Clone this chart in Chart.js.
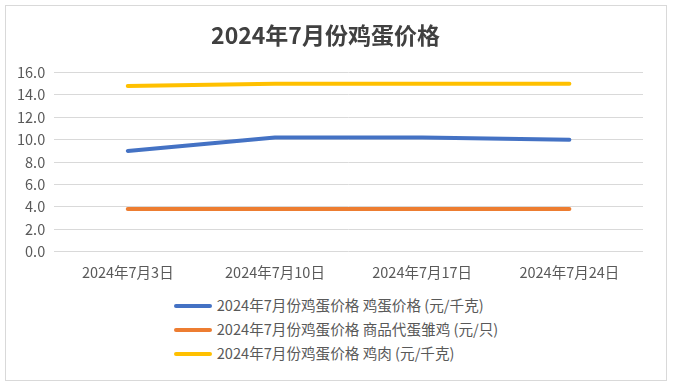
<!DOCTYPE html>
<html>
<head>
<meta charset="utf-8">
<script src="https://cdn.jsdelivr.net/npm/chart.js@4/dist/chart.umd.min.js"></script>
<style>
    body { margin: 0; background: #fff; font-family: "Noto Sans CJK SC", "Noto Sans", sans-serif; }
    #box { position: absolute; left: 5px; top: 5px; width: 660px; height: 374px; border: 1px solid #d9d9d9; }
    #chartWrap { position: relative; width: 660px; height: 287px; }
    #legend { text-align: center; }
    #legend ul { display: inline-block; list-style: none; margin: 0; padding: 0; text-align: left; }
    #legend li { height: 24px; line-height: 24px; font-size: 14.6px; color: #595959; white-space: nowrap; }
    #legend .swatch { display: inline-block; width: 38px; height: 4px; border-radius: 2px; vertical-align: middle; margin-right: 5px; position: relative; top: -1px; }
</style>
</head>
<body>
<div id="box">
    <div id="chartWrap"><canvas id="eggChart"></canvas></div>
    <div id="legend"></div>
</div>
<script>
// data
const categories = ['2024年7月3日', '2024年7月10日', '2024年7月17日', '2024年7月24日'];
const eggPrice = [9.0, 10.2, 10.2, 10.0];
const chickPrice = [3.8, 3.8, 3.8, 3.8];
const meatPrice = [14.8, 15.0, 15.0, 15.0];
const seriesNames = [
    '2024年7月份鸡蛋价格 鸡蛋价格 (元/千克)',
    '2024年7月份鸡蛋价格 商品代蛋雏鸡 (元/只)',
    '2024年7月份鸡蛋价格 鸡肉 (元/千克)'
];
const colors = ['#4472C4', '#ED7D31', '#FFC000'];

const fontFamily = '"Noto Sans CJK SC", "Noto Sans", sans-serif';

function makeSet(i, values) {
    return {
        label: seriesNames[i],
        data: values,
        borderColor: colors[i],
        backgroundColor: colors[i],
        borderWidth: 4,
        borderCapStyle: 'round',
        borderJoinStyle: 'round',
        pointRadius: 0,
        tension: 0
    };
}

const chart = new Chart(document.getElementById('eggChart'), {
    type: 'line',
    data: {
        labels: categories,
        datasets: [makeSet(0, eggPrice), makeSet(1, chickPrice), makeSet(2, meatPrice)]
    },
    options: {
        responsive: true,
        maintainAspectRatio: false,
        animation: false,
        layout: { padding: { top: 8, left: 2, right: 23, bottom: 8 } },
        plugins: {
            legend: { display: false },
            tooltip: { enabled: false },
            title: {
                display: true,
                text: '2024年7月份鸡蛋价格',
                color: '#404040',
                font: { family: fontFamily, size: 23, weight: 'bold' },
                padding: { top: 7, bottom: 24 }
            }
        },
        scales: {
            x: {
                offset: true,
                grid: { display: false },
                border: { display: false },
                ticks: { color: '#595959', font: { family: fontFamily, size: 14.5 }, padding: 4, maxRotation: 0 }
            },
            y: {
                min: 0,
                max: 16,
                grid: { color: '#d9d9d9', drawTicks: false },
                border: { display: false },
                ticks: {
                    stepSize: 2,
                    color: '#595959',
                    font: { family: fontFamily, size: 14.5 },
                    padding: 9,
                    callback: function (v) { return v.toFixed(1); }
                }
            }
        }
    }
});

// legend as a vertical list under the chart
const ul = document.createElement('ul');
chart.data.datasets.forEach(function (ds) {
    const li = document.createElement('li');
    const sw = document.createElement('span');
    sw.className = 'swatch';
    sw.style.background = ds.borderColor;
    li.appendChild(sw);
    li.appendChild(document.createTextNode(ds.label));
    ul.appendChild(li);
});
document.getElementById('legend').appendChild(ul);
</script>
</body>
</html>
